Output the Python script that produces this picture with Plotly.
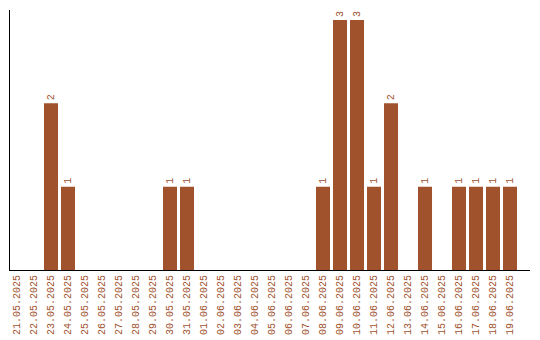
import plotly.graph_objects as go

dates = ["21.05.2025", "22.05.2025", "23.05.2025", "24.05.2025", "25.05.2025",
         "26.05.2025", "27.05.2025", "28.05.2025", "29.05.2025", "30.05.2025",
         "31.05.2025", "01.06.2025", "02.06.2025", "03.06.2025", "04.06.2025",
         "05.06.2025", "06.06.2025", "07.06.2025", "08.06.2025", "09.06.2025",
         "10.06.2025", "11.06.2025", "12.06.2025", "13.06.2025", "14.06.2025",
         "15.06.2025", "16.06.2025", "17.06.2025", "18.06.2025", "19.06.2025"]
counts = [0, 0, 2, 1, 0, 0, 0, 0, 0, 1,
          1, 0, 0, 0, 0, 0, 0, 0, 1, 3,
          3, 1, 2, 0, 1, 0, 1, 1, 1, 1]

COLOR = "#a0522d"
labels = [str(v) if v > 0 else "" for v in counts]

fig = go.Figure(go.Bar(
    x=dates, y=counts, width=14 / 17,
    marker=dict(color=COLOR, line=dict(width=0)),
    text=labels, textposition="outside", textangle=-90,
    textfont=dict(family="Liberation Mono", size=10, color=COLOR),
    cliponaxis=False, hoverinfo="skip",
))

fig.update_layout(
    width=540, height=340,
    margin=dict(l=10, r=10, t=10, b=70, autoexpand=False),
    paper_bgcolor="white", plot_bgcolor="white",
    showlegend=False,
    uniformtext=dict(minsize=10, mode="show"),
    xaxis=dict(
        type="category", range=[-7 / 17, 30.176],
        showline=True, linecolor="black", linewidth=1,
        showgrid=False, zeroline=False, ticks="",
        tickangle=-90, automargin=False,
        tickfont=dict(family="Liberation Mono", size=10, color=COLOR),
    ),
    yaxis=dict(
        range=[0, 3.12], showline=True, linecolor="black", linewidth=1,
        showgrid=False, zeroline=False, showticklabels=False, ticks="",
        automargin=False,
    ),
)

fig.write_html("out.html")
